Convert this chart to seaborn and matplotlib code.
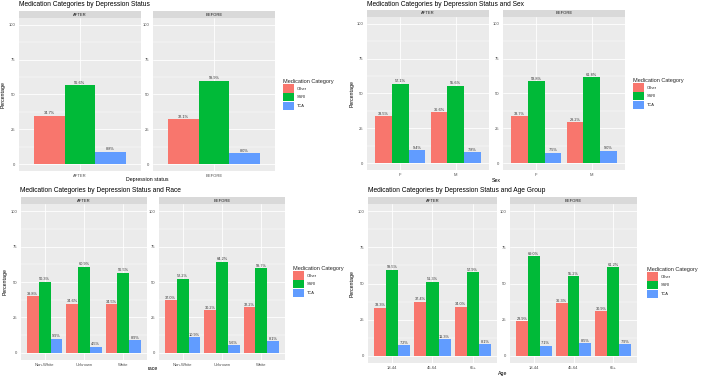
import numpy as np
import pandas as pd
import seaborn as sns
import matplotlib.pyplot as plt
from matplotlib.patches import Patch

sns.set_theme(style="white")
plt.rcParams["font.family"] = ["Liberation Sans", "DejaVu Sans"]

W, H = 703, 378

status_levels = ["AFTER", "BEFORE"]
med_levels = ["Other", "SSRI", "TCA"]
med_colors = ["#F8766D", "#00BA38", "#619CFF"]

# percentages per x-category, listed as [Other, SSRI, TCA]
overall_after = [[34.7, 56.6, 8.8]]
overall_before = [[32.1, 59.9, 8.0]]

sex_groups = ["F", "M"]
sex_after = [[33.5, 57.1, 9.4], [36.6, 55.6, 7.8]]
sex_before = [[33.7, 58.8, 7.5], [29.2, 61.8, 9.0]]

race_groups = ["Non-White", "Unknown", "White"]
race_after = [[39.8, 50.3, 9.9], [34.6, 60.9, 4.5], [34.5, 56.5, 8.9]]
race_before = [[37.0, 52.2, 10.9], [30.2, 64.2, 5.6], [32.2, 59.7, 8.1]]

age_groups = ["18-44", "45-64", "65+"]
age_after = [[33.3, 59.5, 7.2], [37.4, 51.3, 11.3], [34.0, 57.9, 8.1]]
age_before = [[23.9, 69.0, 7.1], [36.3, 55.2, 8.5], [30.9, 61.2, 7.9]]


def long_df(groups_by_status, values_by_status):
    rows = []
    for status, groups, vals in zip(status_levels, groups_by_status, values_by_status):
        for g, triple in zip(groups, vals):
            for med, v in zip(med_levels, triple):
                rows.append((status, g, med, v))
    return pd.DataFrame(rows, columns=["status", "group", "med", "pct"])


fig = plt.figure(figsize=(W / 100, H / 100), dpi=100)
fig.patch.set_facecolor("white")


def px_axes(x0, y0, x1, y1):
    return fig.add_axes([x0 / W, 1 - y1 / H, (x1 - x0) / W, (y1 - y0) / H])


def draw_panel(df, groups_by_status, title, xlabel, facets, strip_top, title_xy,
               xlabel_y, ylabel_x, legend_xy):
    for status, groups, (x0, y0, x1, y1) in zip(status_levels, groups_by_status, facets):
        ax = px_axes(x0, y0, x1, y1)
        sub = df[df.status == status]
        sns.barplot(data=sub, x="group", y="pct", hue="med", order=groups,
                    hue_order=med_levels, palette=med_colors, width=0.9,
                    saturation=1, linewidth=0, legend=False, ax=ax)
        ax.set_facecolor("#EBEBEB")
        ax.set_axisbelow(True)
        ax.set_ylim(-5, 105)
        ax.set_xlim(-0.6, len(groups) - 1 + 0.6)
        ax.set_yticks([0, 25, 50, 75, 100])
        ax.set_yticks([12.5, 37.5, 62.5, 87.5], minor=True)
        ax.grid(True, which="major", color="white", linewidth=0.6)
        ax.yaxis.grid(True, which="minor", color="white", linewidth=0.3)
        for s in ax.spines.values():
            s.set_visible(False)
        ax.tick_params(which="major", length=1.5, width=0.4, color="#333333",
                       labelsize=3.0, labelcolor="#4D4D4D", pad=1)
        ax.tick_params(which="minor", length=0)
        ax.set_xlabel("")
        ax.set_ylabel("")
        for c in ax.containers:
            ax.bar_label(c, fmt="%.1f%%", fontsize=2.8, padding=0.3, color="#333333")

        sax = px_axes(x0, strip_top, x1, y0)
        sax.set_facecolor("#D9D9D9")
        sax.set_xticks([])
        sax.set_yticks([])
        for s in sax.spines.values():
            s.set_visible(False)
        sax.text(0.5, 0.5, status, ha="center", va="center", fontsize=3.0,
                 color="#1A1A1A", transform=sax.transAxes)

    left = facets[0][0]
    right = facets[1][2]
    top = facets[0][1]
    bottom = facets[0][3]
    fig.text(title_xy[0] / W, 1 - title_xy[1] / H, title, ha="left", va="center",
             fontsize=4.8, color="black")
    fig.text((left + right) / 2 / W, 1 - xlabel_y / H, xlabel, ha="center",
             va="center", fontsize=3.8, color="black")
    fig.text(ylabel_x / W, 1 - (top + bottom) / 2 / H, "Percentage", ha="center",
             va="center", rotation=90, fontsize=3.8, color="black")

    handles = [Patch(facecolor=c, edgecolor="none", label=l)
               for c, l in zip(med_colors, med_levels)]
    fig.legend(handles=handles, title="Medication Category", loc="upper left",
               bbox_to_anchor=(legend_xy[0] / W, 1 - legend_xy[1] / H),
               frameon=False, fontsize=2.9, title_fontsize=4.0,
               handlelength=2.8, handleheight=2.8, labelspacing=0.1,
               handletextpad=0.7, borderpad=0, borderaxespad=0, alignment="left")


draw_panel(long_df([["AFTER"], ["BEFORE"]], [overall_after, overall_before]),
           [["AFTER"], ["BEFORE"]],
           "Medication Categories by Depression Status", "Depression status",
           [(19, 18, 141, 171), (153, 18, 275, 171)], 11, (19, 5), 180, 3, (283, 79))

draw_panel(long_df([sex_groups, sex_groups], [sex_after, sex_before]),
           [sex_groups, sex_groups],
           "Medication Categories by Depression Status and Sex", "Sex",
           [(367, 17, 489, 170), (503, 17, 625, 170)], 10, (367, 4), 180, 352, (633, 78))

draw_panel(long_df([race_groups, race_groups], [race_after, race_before]),
           [race_groups, race_groups],
           "Medication Categories by Depression Status and Race", "race",
           [(21, 204, 147, 360), (159, 204, 285, 360)], 197, (20, 190), 369, 5, (293, 266))

draw_panel(long_df([age_groups, age_groups], [age_after, age_before]),
           [age_groups, age_groups],
           "Medication Categories by Depression Status and Age Group", "Age",
           [(368, 204, 497, 363), (510, 204, 637, 363)], 197, (368, 190), 373, 352, (647, 267))

fig.savefig("out.png", dpi=100)
